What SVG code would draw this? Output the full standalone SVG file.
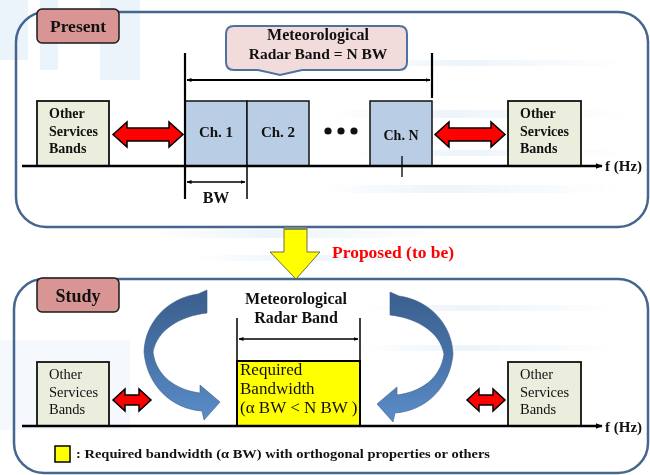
<svg xmlns="http://www.w3.org/2000/svg" width="650" height="475" viewBox="0 0 650 475">
<style>
.t{font-family:"Liberation Serif","Times New Roman",serif;fill:#111;}
.b{font-weight:bold;}
.panel{fill:none;stroke:#44668f;stroke-width:2.5;}
.tag{fill:#d99594;stroke:#1a1a1a;stroke-width:1.5;}
.osb{fill:#ebeedd;stroke:#111;stroke-width:1.8;}
.ch{fill:#b9cde5;stroke:#111;stroke-width:1.5;}
.ln{stroke:#000;fill:none;}
.red{fill:#ff0000;stroke:#000;stroke-width:1.5;stroke-linejoin:miter;}
.curve{fill:url(#cg);stroke:#3d5f8c;stroke-width:0.6;}
.bg{fill:#dcebf7;}
</style>
<defs>
<marker id="ah" viewBox="0 0 10 10" refX="9" refY="5" markerWidth="5" markerHeight="5" orient="auto-start-reverse" markerUnits="userSpaceOnUse">
<path d="M0,1 L10,5 L0,9 Z" fill="#000"/>
</marker>
<marker id="ax" viewBox="0 0 10 10" refX="9" refY="5" markerWidth="7" markerHeight="7" orient="auto" markerUnits="userSpaceOnUse">
<path d="M0,1 L10,5 L0,9 Z" fill="#000"/>
</marker>
<linearGradient id="cg" x1="0" y1="0" x2="0" y2="1">
<stop offset="0" stop-color="#3b5f8e"/>
<stop offset="0.45" stop-color="#4670a4"/>
<stop offset="1" stop-color="#5b8dc9"/>
</linearGradient>
<linearGradient id="st" x1="0" y1="0" x2="1" y2="0">
<stop offset="0" stop-color="#d6e7f5" stop-opacity="0"/>
<stop offset="0.4" stop-color="#d6e7f5" stop-opacity="0.8"/>
<stop offset="1" stop-color="#d6e7f5" stop-opacity="0"/>
</linearGradient>
</defs>

<g id="background" opacity="0.55">
<rect x="0" y="0" width="28" height="60" class="bg"/>
<rect x="40" y="0" width="18" height="70" class="bg"/>
<rect x="100" y="0" width="40" height="80" class="bg"/>
<rect x="150" y="230" width="300" height="8" fill="url(#st)"/>
<rect x="190" y="255" width="280" height="6" fill="url(#st)"/>
<rect x="350" y="60" width="280" height="6" fill="url(#st)"/>
<rect x="330" y="110" width="300" height="8" fill="url(#st)"/>
<rect x="350" y="150" width="280" height="6" fill="url(#st)"/>
<rect x="320" y="185" width="300" height="8" fill="url(#st)"/>
<rect x="0" y="340" width="130" height="90" class="bg" opacity="0.5"/>
<rect x="360" y="305" width="260" height="6" fill="url(#st)"/>
<rect x="360" y="345" width="260" height="6" fill="url(#st)"/>
</g>

<g id="panel-present">
<rect x="16" y="12" width="632" height="215" rx="30" ry="30" class="panel"/>
</g>
<g id="panel-study">
<rect x="14" y="279" width="634" height="194" rx="30" ry="30" class="panel"/>
</g>

<g id="tag-present">
<rect x="37" y="9" width="82" height="34" rx="5" class="tag"/>
<text x="78" y="32" class="t b" font-size="17.5" text-anchor="middle">Present</text>
</g>
<g id="tag-study">
<rect x="37" y="278" width="82" height="34" rx="5" class="tag"/>
<text x="78" y="302" class="t b" font-size="18" text-anchor="middle">Study</text>
</g>

<g id="callout-band">
<path d="M234,26 H399 Q407,26 407,34 V62 Q407,70 399,70 H302 L280,75 L258,70 H234 Q226,70 226,62 V34 Q226,26 234,26 Z" fill="#f2dcdb" stroke="#4f71a0" stroke-width="2"/>
<text x="318" y="40" class="t b" font-size="16" text-anchor="middle">Meteorological</text>
<text x="318" y="59" class="t b" font-size="15.5" text-anchor="middle">Radar Band = N BW</text>
</g>

<g id="osb-top-left">
<rect x="37" y="101" width="72" height="65" class="osb"/>
<text x="49" y="118" class="t b" font-size="14">Other</text>
<text x="49" y="136" class="t b" font-size="14">Services</text>
<text x="49" y="153" class="t b" font-size="14">Bands</text>
</g>
<g id="osb-top-right">
<rect x="508" y="101" width="73" height="65" class="osb"/>
<text x="520" y="118" class="t b" font-size="14">Other</text>
<text x="520" y="136" class="t b" font-size="14">Services</text>
<text x="520" y="153" class="t b" font-size="14">Bands</text>
</g>

<g id="ch1">
<rect x="185" y="101" width="62" height="65" class="ch"/>
<text x="216" y="137" class="t b" font-size="15" text-anchor="middle">Ch. 1</text>
</g>
<g id="ch2">
<rect x="247" y="101" width="62" height="65" class="ch"/>
<text x="278" y="137" class="t b" font-size="15" text-anchor="middle">Ch. 2</text>
</g>
<g id="dots">
<circle cx="328" cy="131" r="3.6" fill="#111"/>
<circle cx="341" cy="131" r="3.6" fill="#111"/>
<circle cx="354" cy="131" r="3.6" fill="#111"/>
</g>
<g id="chN">
<rect x="370" y="101" width="62" height="65" class="ch"/>
<text x="401" y="140" class="t b" font-size="14" text-anchor="middle">Ch. N</text>
</g>

<g id="osb-bot-left">
<rect x="37" y="362" width="72" height="64" class="osb"/>
<text x="49" y="379" class="t" font-size="14.5">Other</text>
<text x="49" y="397" class="t" font-size="14.5">Services</text>
<text x="49" y="414" class="t" font-size="14.5">Bands</text>
</g>
<g id="osb-bot-right">
<rect x="508" y="362" width="73" height="64" class="osb"/>
<text x="520" y="379" class="t" font-size="14.5">Other</text>
<text x="520" y="397" class="t" font-size="14.5">Services</text>
<text x="520" y="414" class="t" font-size="14.5">Bands</text>
</g>

<g id="required-bw">
<rect x="237" y="361" width="123" height="65" fill="#ffff00" stroke="#000" stroke-width="2"/>
<text x="240" y="375" class="t" font-size="17">Required</text>
<text x="240" y="394" class="t" font-size="17">Bandwidth</text>
<text x="240" y="413" class="t" font-size="17">(α BW &lt; N BW )</text>
</g>

<g id="band-label-bottom">
<text x="296" y="304" class="t b" font-size="16" text-anchor="middle">Meteorological</text>
<text x="296" y="323" class="t b" font-size="16" text-anchor="middle">Radar Band</text>
</g>

<g id="curved-arrows">
<path class="curve" d="M198,294 L207,290 L207,313 C180,316 157,330 153,352 C156,376 176,390 200,393 L200,385 L220,402 L204,420 L202,411 C172,409 147,386 144,352 C145,322 168,298 198,294 Z"/>
<path class="curve" transform="translate(597,2) scale(-1,1)" d="M198,294 L207,290 L207,313 C180,316 157,330 153,352 C156,376 176,390 200,393 L200,385 L220,402 L204,420 L202,411 C172,409 147,386 144,352 C145,322 168,298 198,294 Z"/>
</g>

<g id="transition">
<path d="M284,228 H307 V252 H320 L296,279 L270,252 H284 Z" fill="#ffff00" stroke="#707035" stroke-width="1"/>
<rect x="284" y="227" width="23" height="3" fill="#7c8a6a"/>
<text x="332" y="258" font-family="Liberation Serif, serif" font-weight="bold" font-size="17.5" fill="#ff0000">Proposed (to be)</text>
</g>

<g id="connectors">
<line x1="22" y1="166" x2="602" y2="166" class="ln" stroke-width="2.5" marker-end="url(#ax)"/>
<text x="605" y="171" class="t b" font-size="15">f (Hz)</text>
<line x1="185" y1="53" x2="185" y2="199" class="ln" stroke-width="2.2"/>
<line x1="432" y1="53" x2="432" y2="98" class="ln" stroke-width="2.2"/>
<line x1="187" y1="80" x2="430" y2="80" class="ln" stroke-width="2" marker-start="url(#ah)" marker-end="url(#ah)"/>
<line x1="247" y1="166" x2="247" y2="199" class="ln" stroke-width="1.5"/>
<line x1="187" y1="182" x2="245" y2="182" class="ln" stroke-width="1.5" marker-start="url(#ah)" marker-end="url(#ah)"/>
<text x="216" y="203" class="t b" font-size="16" text-anchor="middle">BW</text>
<line x1="402" y1="156" x2="402" y2="177" class="ln" stroke-width="1.3"/>
<path class="red" d="M113,134.5 L127,122 V128 H169 V122 L183,134.5 L169,147 V141 H127 V147 Z"/>
<path class="red" d="M435,134.5 L449,122 V128 H491 V122 L505,134.5 L491,147 V141 H449 V147 Z"/>
<line x1="22" y1="426" x2="602" y2="426" class="ln" stroke-width="2.5" marker-end="url(#ax)"/>
<text x="605" y="432" class="t b" font-size="15">f (Hz)</text>
<line x1="237" y1="318" x2="237" y2="361" class="ln" stroke-width="1.5"/>
<line x1="360" y1="318" x2="360" y2="361" class="ln" stroke-width="1.5"/>
<line x1="239" y1="339" x2="358" y2="339" class="ln" stroke-width="1.5" marker-start="url(#ah)" marker-end="url(#ah)"/>
<path class="red" d="M113,400 L125,389 V395 H139 V389 L151,400 L139,411 V405 H125 V411 Z"/>
<path class="red" d="M467,400 L479,389 V395 H493 V389 L505,400 L493,411 V405 H479 V411 Z"/>
</g>

<g id="legend">
<rect x="55" y="446" width="15" height="16" fill="#ffff00" stroke="#000" stroke-width="1.5"/>
<text x="76" y="458" class="t b" font-size="12.5" textLength="414" lengthAdjust="spacingAndGlyphs">: Required bandwidth (α BW) with orthogonal properties or others</text>
</g>
</svg>
